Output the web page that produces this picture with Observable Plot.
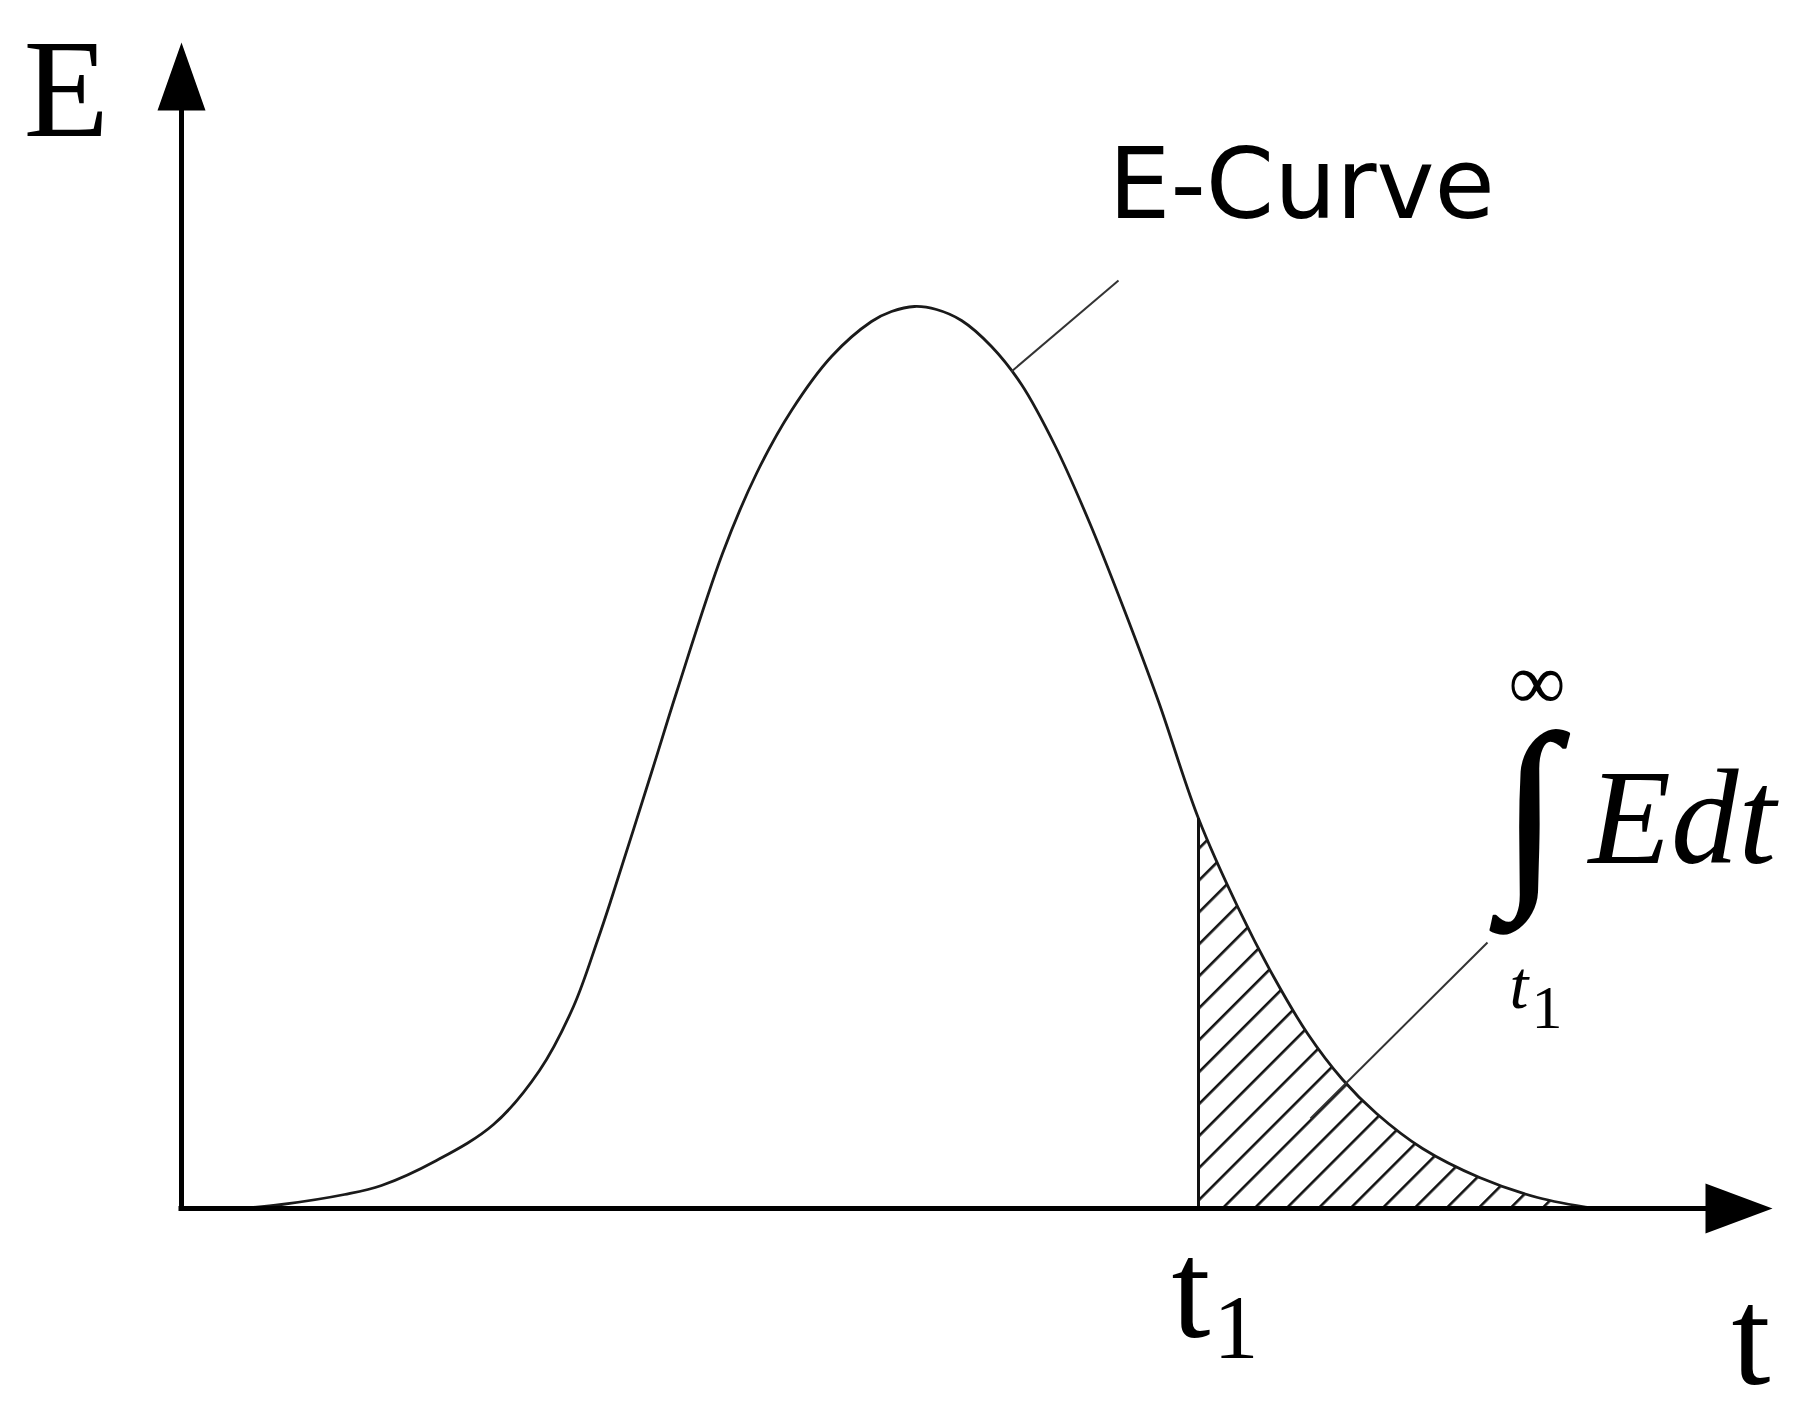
<!DOCTYPE html>
<html><head><meta charset="utf-8">
<script src="https://cdn.jsdelivr.net/npm/d3@7"></script>
<script src="https://cdn.jsdelivr.net/npm/@observablehq/plot@0.6"></script>
<style>html,body{margin:0;padding:0;background:#fff;} svg{display:block;background:#fff}</style>
</head><body><div id="chart"></div>
<script>
// E-curve (residence time distribution)
const tValues = [0.6, 1.0, 1.63, 2.0, 2.55, 3.12, 3.58, 3.92, 4.16, 4.3, 4.7, 4.95, 5.41, 5.75, 6.1, 6.5, 6.9, 7.1, 7.33, 7.55, 7.8, 8.1, 8.4, 8.74, 9.08, 9.43, 9.77, 10.17, 10.57, 10.92, 11.26, 11.61, 11.95, 12.41, 12.98, 13.56, 14.13];
const eValues = [0.0, 0.04, 0.14, 0.23, 0.48, 0.84, 1.38, 2.02, 2.68, 3.10, 4.36, 5.16, 6.55, 7.35, 7.98, 8.52, 8.87, 8.97, 9.02, 8.99, 8.88, 8.62, 8.24, 7.62, 6.86, 5.98, 5.07, 3.9, 3.0, 2.32, 1.75, 1.29, 0.95, 0.60, 0.31, 0.11, 0.0];
const t1 = 10.17;                 // lower limit of the shaded tail
const axisEnds = {t: 15.91, E: 11.66};
const labels = {yAxis: "E", xAxis: "t", curve: "E-Curve", t1: "t", sub: "1", inf: "∞", integral: "∫", integrand: "Edt"};

const curve = tValues.map((t, i) => ({t, E: eValues[i]}));
const tail = curve.filter(d => d.t >= t1);
const eAtT1 = eValues[tValues.indexOf(t1)];

const arrowUp = {draw(ctx) { ctx.moveTo(0, 0); ctx.lineTo(-24, 68); ctx.lineTo(24, 68); ctx.closePath(); }};
const arrowRight = {draw(ctx) { ctx.moveTo(0, 0); ctx.lineTo(-67, -25); ctx.lineTo(-67, 25); ctx.closePath(); }};

const serif = "Liberation Serif, Times New Roman, serif";
const txt = (s, o) => Plot.text([s], {text: d => d, fill: "black", textAnchor: "start", lineAnchor: "bottom", ...o});

const plot = Plot.plot({
  width: 1798, height: 1414, margin: 0,
  x: {domain: [0, 16], range: [181, 1781], axis: null},
  y: {domain: [0, 12], range: [1208, 8], axis: null},
  marks: [
    Plot.areaY(tail, {x: "t", y: "E", fill: "url(#hatch)", curve: "catmull-rom"}),
    Plot.line(curve, {x: "t", y: "E", stroke: "#1a1a1a", strokeWidth: 2.8, curve: "catmull-rom"}),
    Plot.ruleX([t1], {y1: 0, y2: eAtT1, stroke: "#111", strokeWidth: 3}),
    // axes
    Plot.ruleX([0], {y1: 0, y2: axisEnds.E - 0.6, stroke: "black", strokeWidth: 5, strokeLinecap: "square"}),
    Plot.ruleY([0], {x1: 0, x2: axisEnds.t - 0.6, stroke: "black", strokeWidth: 5, strokeLinecap: "square"}),
    Plot.dot([0], {x: 0, y: axisEnds.E, symbol: arrowUp, fill: "black", stroke: "none"}),
    Plot.dot([0], {x: axisEnds.t, y: 0, symbol: arrowRight, fill: "black", stroke: "none"}),
    // leader lines
    Plot.link([0], {x1: 8.30, y1: 8.37, x2: 9.37, y2: 9.28, stroke: "#333", strokeWidth: 2}),
    Plot.link([0], {x1: 11.29, y1: 0.90, x2: 13.06, y2: 2.66, stroke: "#333", strokeWidth: 2}),
    // labels
    txt(labels.yAxis, {x: -1.58, y: 10.73, fontFamily: serif, fontSize: 140}),
    txt(labels.curve, {x: 9.27, y: 9.91, fontFamily: "DejaVu Sans, Verdana, sans-serif", fontSize: 98}),
    txt(labels.xAxis, {x: 15.50, y: -1.75, fontFamily: serif, fontSize: 140}),
    txt(labels.t1, {x: 9.90, y: -1.28, fontFamily: serif, fontSize: 140}),
    txt(labels.sub, {x: 10.32, y: -1.49, fontFamily: serif, fontSize: 90}),
    txt(labels.inf, {x: 13.27, y: 5.0, fontFamily: serif, fontSize: 80}),
    txt(labels.integral, {x: 13.20, y: 3.31, fontFamily: serif, fontSize: 207, stroke: "black", strokeWidth: 2.5}),
    txt(labels.integrand, {x: 14.07, y: 3.46, fontFamily: serif, fontSize: 135, fontStyle: "italic"}),
    txt(labels.t1, {x: 13.28, y: 2.01, fontFamily: serif, fontSize: 68, fontStyle: "italic"}),
    txt(labels.sub, {x: 13.50, y: 1.81, fontFamily: serif, fontSize: 62})
  ]
});

const ns = "http://www.w3.org/2000/svg";
const defs = document.createElementNS(ns, "defs");
const pat = document.createElementNS(ns, "pattern");
pat.setAttribute("id", "hatch");
pat.setAttribute("patternUnits", "userSpaceOnUse");
pat.setAttribute("width", "22.6");
pat.setAttribute("height", "22.6");
pat.setAttribute("patternTransform", "rotate(45)");
const bg = document.createElementNS(ns, "rect");
bg.setAttribute("width", "22.6"); bg.setAttribute("height", "22.6"); bg.setAttribute("fill", "white");
const ln = document.createElementNS(ns, "line");
ln.setAttribute("x1", "1.3"); ln.setAttribute("y1", "-1"); ln.setAttribute("x2", "1.3"); ln.setAttribute("y2", "24");
ln.setAttribute("stroke", "#111"); ln.setAttribute("stroke-width", "2.6");
pat.appendChild(bg); pat.appendChild(ln); defs.appendChild(pat);
plot.insertBefore(defs, plot.firstChild);
document.getElementById("chart").appendChild(plot);
</script>
</body></html>
